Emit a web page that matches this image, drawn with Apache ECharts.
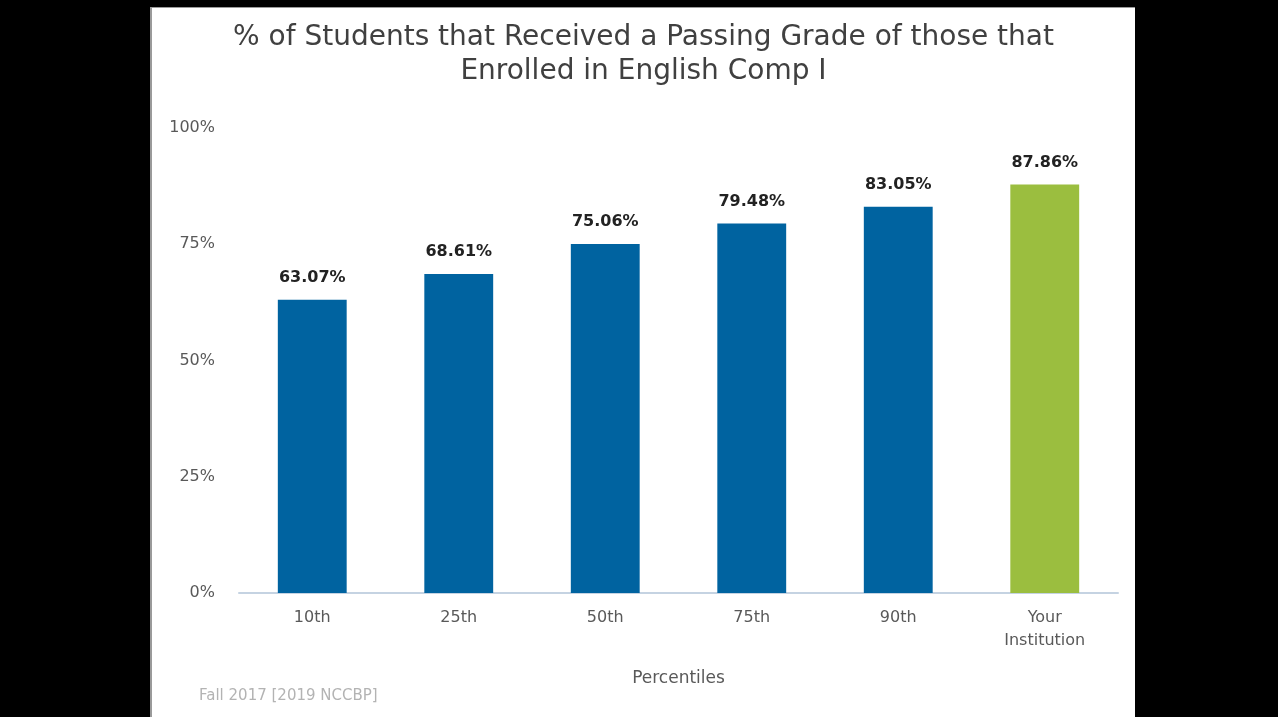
<!DOCTYPE html>
<html>
<head>
<meta charset="utf-8">
<script src="https://cdn.jsdelivr.net/npm/echarts@6/dist/echarts.min.js"></script>
<style>
  html, body { margin: 0; padding: 0; background: #000; width: 1278px; height: 717px; overflow: hidden; }
  #panel { position: absolute; left: 150px; top: 7px; width: 985px; height: 710px; background: #fff;
           border-top: 1px solid #9a9a9a; border-left: 2px solid #9a9a9a; box-sizing: border-box; }
  #chart { width: 100%; height: 100%; }
</style>
</head>
<body>
<div id="panel"><div id="chart"></div></div>
<script>
// Passing-rate percentiles for English Comp I
const categories = ['10th', '25th', '50th', '75th', '90th', 'Your\nInstitution'];
const passRates = [63.07, 68.61, 75.06, 79.48, 83.05, 87.86];
const yTicks = [0, 25, 50, 75, 100];

const BLUE = '#0063A0';
const GREEN = '#9BBE3F';
const FONT = '"DejaVu Sans", "Noto Sans", sans-serif';

const chart = echarts.init(document.getElementById('chart'), null, { renderer: 'canvas' });

chart.setOption({
  backgroundColor: '#fff',
  animation: false,
  title: {
    text: '% of Students that Received a Passing Grade of those that\nEnrolled in English Comp I',
    left: 'center',
    top: 8,
    textStyle: { fontFamily: FONT, fontSize: 28, fontWeight: 'normal', color: '#404040', lineHeight: 34 }
  },
  grid: { left: 87, right: 17, top: 120, bottom: 124, containLabel: false },
  xAxis: {
    type: 'category',
    data: categories,
    name: 'Percentiles',
    nameLocation: 'middle',
    nameGap: 77,
    nameTextStyle: { fontFamily: FONT, fontSize: 17, color: '#595959' },
    axisLine: { lineStyle: { color: '#c5d3e2', width: 2 } },
    axisTick: { show: false },
    axisLabel: { fontFamily: FONT, fontSize: 16, color: '#595959', margin: 13, lineHeight: 23 }
  },
  yAxis: {
    type: 'value',
    min: yTicks[0],
    max: yTicks[yTicks.length - 1],
    interval: 25,
    axisLine: { show: false },
    axisTick: { show: false },
    splitLine: { show: false },
    axisLabel: { fontFamily: FONT, fontSize: 16, color: '#595959', margin: 24, formatter: v => v + '%' }
  },
  series: [{
    type: 'bar',
    barWidth: '47%',
    data: passRates.map((v, i) => ({
      value: v,
      itemStyle: { color: i === passRates.length - 1 ? GREEN : BLUE }
    })),
    label: {
      show: true,
      position: 'top',
      distance: 14,
      fontFamily: FONT,
      fontSize: 16,
      fontWeight: 'bold',
      color: '#222',
      formatter: p => p.value.toFixed(2) + '%'
    }
  }],
  graphic: [{
    type: 'text',
    left: 47,
    top: 681,
    style: { text: 'Fall 2017 [2019 NCCBP]', fontFamily: FONT, fontSize: 15, fill: '#b3b3b3' }
  }]
});
</script>
</body>
</html>
